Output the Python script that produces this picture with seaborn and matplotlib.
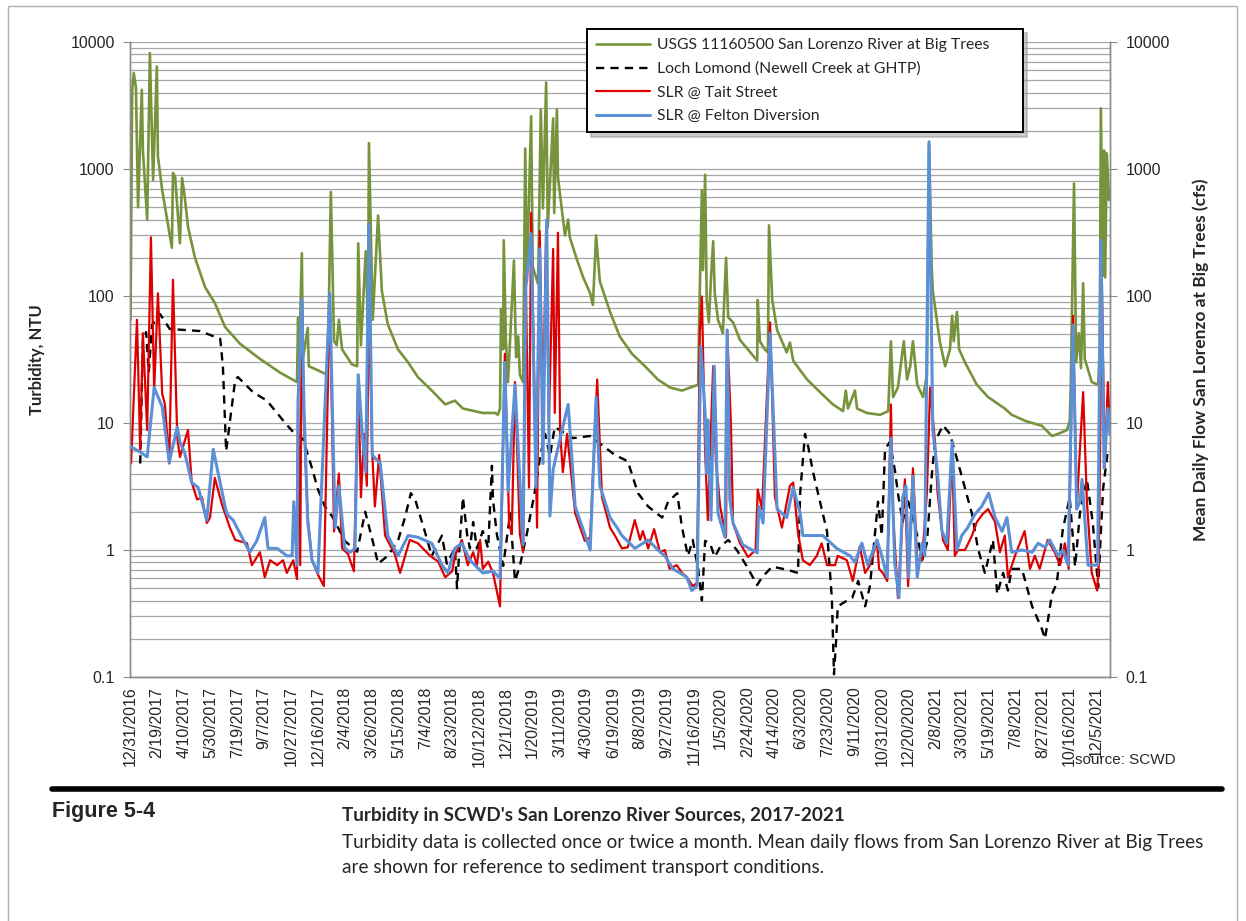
import matplotlib
matplotlib.use("Agg")
import matplotlib.pyplot as plt
import matplotlib.ticker as mticker
from matplotlib.lines import Line2D
from matplotlib.patches import Rectangle
import pandas as pd
import seaborn as sns

START = pd.Timestamp("2016-12-31")

# all day numbers are days since 12/31/2016
flow_days = [
    1, 4, 7, 11, 15, 22, 24, 32, 37, 43,
    50, 52, 60, 78, 80, 84, 93, 97, 102, 108,
    121, 140, 158, 177, 205, 242, 279, 311, 313, 315,
    320, 322, 331, 333, 350, 367, 369, 374, 380, 385,
    389, 395, 413, 423, 425, 430, 439, 443, 445, 452,
    462, 469, 480, 499, 518, 536, 562, 587, 605, 620,
    657, 680, 685, 689, 691, 695, 696, 700, 704, 715,
    719, 723, 726, 732, 736, 739, 747, 750, 760, 765,
    769, 775, 778, 788, 790, 795, 797, 801, 810, 816,
    819, 832, 844, 857, 862, 868, 875, 894, 912, 935,
    959, 983, 1006, 1028, 1043, 1058, 1060, 1065, 1067, 1071,
    1074, 1078, 1082, 1086, 1089, 1095, 1104, 1110, 1114, 1123,
    1136, 1155, 1168, 1169, 1173, 1182, 1188, 1190, 1196, 1205,
    1223, 1229, 1235, 1248, 1261, 1285, 1309, 1328, 1333, 1337,
    1350, 1354, 1372, 1397, 1412, 1417, 1421, 1430, 1441, 1447,
    1453, 1458, 1466, 1477, 1484, 1488, 1493, 1495, 1508, 1518,
    1527, 1531, 1534, 1540, 1544, 1555, 1577, 1598, 1629, 1642,
    1667, 1698, 1717, 1728, 1745, 1750, 1752, 1758, 1762, 1767,
    1771, 1775, 1778, 1791, 1803, 1806, 1808, 1812, 1814, 1816,
    1819, 1823, 1825]
flow_cfs = [
    65, 4200, 5700, 4400, 500, 4200, 1400, 400, 8200, 820,
    6400, 1250, 680, 240, 930, 870, 260, 850, 600, 350,
    200, 117, 88, 57, 42, 32, 25, 21, 67, 30,
    217, 32, 56, 28, 26, 24, 41, 660, 44, 41,
    65, 38, 29, 28, 260, 41, 225, 60, 1600, 65,
    430, 110, 60, 38, 30, 23, 18, 14, 15, 13,
    12, 12, 11.6, 13, 79, 38, 275, 44, 21, 190,
    33, 48, 24, 21, 1450, 130, 2600, 170, 124, 2950,
    490, 4800, 350, 2500, 450, 2950, 860, 620, 300, 400,
    290, 195, 140, 105, 85, 300, 130, 75, 48, 35,
    28, 22, 19, 18, 19, 20, 65, 680, 160, 900,
    93, 62, 140, 270, 105, 65, 51, 200, 68, 62,
    45, 36, 31, 93, 44, 38, 36, 360, 93, 54,
    36, 43, 31, 26, 22, 17.5, 14, 12.4, 18, 13,
    18, 13, 12, 11.6, 12.4, 44, 16, 19, 44, 22,
    28, 44, 20, 16, 24, 1570, 170, 110, 44, 28,
    38, 70, 44, 75, 38, 30, 20, 16, 13, 11.6,
    10.4, 9.5, 7.9, 8.2, 8.8, 10.4, 20, 770, 30, 51,
    27, 126, 32, 21, 20, 40, 3000, 145, 1400, 140,
    1330, 570, 700]

lomond_days = [
    19, 24, 30, 35, 41, 56, 74, 130, 168, 173,
    179, 196, 201, 229, 255, 289, 307, 322, 339, 350,
    363, 378, 400, 423, 438, 453, 462, 480, 499, 512,
    523, 531, 549, 562, 581, 590, 605, 609, 615, 620,
    628, 633, 639, 646, 657, 667, 674, 676, 683, 695,
    708, 717, 726, 739, 754, 764, 773, 782, 791, 825,
    857, 903, 927, 946, 965, 991, 1002, 1019, 1028, 1039,
    1048, 1058, 1065, 1071, 1080, 1089, 1099, 1114, 1130, 1149,
    1168, 1177, 1196, 1223, 1244, 1248, 1257, 1263, 1272, 1285,
    1298, 1307, 1311, 1315, 1318, 1331, 1345, 1356, 1369, 1378,
    1387, 1393, 1400, 1406, 1415, 1425, 1430, 1439, 1447, 1456,
    1466, 1475, 1484, 1493, 1499, 1514, 1527, 1549, 1568, 1579,
    1592, 1607, 1615, 1626, 1635, 1642, 1661, 1680, 1698, 1704,
    1717, 1726, 1737, 1750, 1760, 1769, 1782, 1793, 1803, 1812,
    1821]
lomond_ntu = [
    4.8, 45, 52, 25, 59, 72, 55, 53, 46, 28,
    6.0, 22, 23, 17.5, 15, 10, 8.2, 7.5, 4.4, 3.0,
    2.2, 1.8, 1.18, 0.97, 2.0, 1.13, 0.78, 0.9, 1.18, 1.8,
    2.8, 2.5, 1.4, 0.9, 1.3, 0.78, 1.03, 0.5, 1.3, 2.6,
    1.3, 1.03, 1.66, 1.03, 1.41, 1.03, 4.6, 2.5, 1.34, 0.75,
    1.95, 0.57, 0.75, 1.34, 2.9, 5.5, 8.2, 5.5, 9.3, 7.6,
    7.9, 5.6, 5.0, 2.8, 2.2, 1.8, 2.4, 2.8, 1.5, 0.9,
    1.2, 0.71, 0.40, 1.18, 1.13, 0.88, 1.06, 1.2, 1.0, 0.74,
    0.53, 0.61, 0.74, 0.70, 0.66, 2.8, 8.2, 6.5, 4.1, 2.4,
    1.4, 0.42, 0.105, 0.195, 0.36, 0.39, 0.42, 0.57, 0.36, 0.52,
    1.3, 2.4, 1.3, 6.2, 7.1, 4.1, 2.8, 1.66, 2.6, 1.92,
    1.3, 0.83, 1.13, 3.8, 7.1, 9.6, 8.2, 3.8, 1.92, 1.03,
    0.66, 1.2, 0.45, 0.66, 0.48, 0.71, 0.71, 0.36, 0.24, 0.20,
    0.45, 0.55, 1.44, 2.6, 0.74, 1.95, 3.6, 1.63, 0.51, 3.0,
    6.1]

tait_days = [
    2, 13, 19, 24, 32, 39, 45, 52, 60, 65,
    73, 80, 88, 93, 108, 115, 125, 134, 143, 149,
    158, 171, 186, 196, 218, 227, 242, 251, 261, 274,
    285, 292, 304, 311, 313, 317, 320, 324, 331, 339,
    350, 361, 372, 380, 389, 395, 406, 417, 425, 430,
    436, 441, 445, 451, 456, 464, 475, 493, 503, 521,
    536, 559, 574, 587, 600, 605, 618, 629, 639, 646,
    652, 657, 667, 676, 689, 698, 706, 711, 717, 726,
    732, 737, 743, 747, 758, 763, 769, 775, 780, 788,
    791, 797, 801, 806, 814, 829, 847, 857, 870, 879,
    894, 903, 916, 927, 940, 950, 955, 965, 976, 987,
    996, 1005, 1018, 1028, 1037, 1048, 1056, 1061, 1065, 1071,
    1076, 1086, 1091, 1099, 1110, 1112, 1119, 1123, 1136, 1151,
    1165, 1169, 1177, 1192, 1201, 1214, 1229, 1235, 1244, 1253,
    1266, 1279, 1288, 1298, 1313, 1318, 1335, 1346, 1359, 1369,
    1378, 1391, 1395, 1402, 1410, 1417, 1421, 1430, 1443, 1449,
    1458, 1466, 1475, 1484, 1490, 1499, 1504, 1514, 1523, 1531,
    1536, 1542, 1555, 1568, 1577, 1588, 1598, 1611, 1620, 1629,
    1635, 1648, 1666, 1676, 1685, 1694, 1709, 1722, 1732, 1741,
    1748, 1756, 1763, 1767, 1775, 1782, 1791, 1801, 1804, 1810,
    1815, 1821, 1825]
tait_ntu = [
    4.8, 65, 6.1, 51, 8.8, 290, 18, 105, 17, 14,
    4.8, 134, 7.7, 5.4, 8.8, 3.4, 2.5, 2.6, 1.63, 1.8,
    3.7, 2.3, 1.5, 1.2, 1.13, 0.76, 0.96, 0.61, 0.83, 0.76,
    0.83, 0.66, 0.83, 0.59, 16, 0.76, 95, 10.4, 1.8, 0.83,
    0.64, 0.52, 105, 1.4, 4.0, 1.03, 0.93, 0.68, 22, 2.6,
    8.2, 3.2, 95, 6.0, 2.2, 5.6, 1.3, 0.93, 0.66, 1.2,
    1.13, 0.9, 0.81, 0.61, 0.68, 0.9, 1.2, 0.76, 0.96, 0.76,
    1.2, 0.71, 0.81, 0.66, 0.36, 35, 1.6, 1.34, 21, 1.34,
    0.96, 140, 3.1, 450, 1.5, 325, 10.6, 350, 9.8, 235,
    12, 315, 8.6, 4.1, 8.2, 1.95, 1.18, 1.26, 22, 2.6,
    1.5, 1.3, 1.03, 1.05, 1.72, 1.2, 1.41, 1.03, 1.46, 0.96,
    1.0, 0.71, 0.76, 0.66, 0.61, 0.52, 0.55, 51, 99, 6.1,
    1.72, 28, 5.1, 2.2, 1.26, 54, 10, 1.63, 1.13, 0.88,
    1.0, 3.0, 2.1, 62, 2.6, 1.5, 3.2, 3.4, 1.36, 0.83,
    0.76, 0.9, 1.13, 0.76, 0.76, 0.9, 0.83, 0.57, 1.07, 0.66,
    0.76, 1.18, 0.71, 0.66, 0.57, 14, 1.92, 0.42, 3.6, 0.52,
    4.4, 0.83, 0.83, 2.8, 19, 7.1, 2.8, 1.2, 1.0, 6.0,
    0.9, 1.0, 1.0, 1.3, 1.66, 1.92, 2.1, 1.66, 0.96, 1.3,
    0.61, 0.9, 1.41, 0.71, 0.9, 0.71, 1.2, 0.96, 0.76, 1.13,
    0.71, 70, 2.1, 4.4, 17.5, 2.4, 0.66, 0.48, 0.76, 126,
    4.4, 21, 8.2]

felton_days = [
    2, 19, 32, 45, 60, 73, 88, 93, 102, 115,
    127, 143, 155, 177, 181, 192, 223, 236, 251, 257,
    274, 292, 302, 305, 311, 313, 320, 324, 331, 339,
    350, 372, 382, 389, 400, 410, 419, 425, 432, 439,
    445, 451, 466, 480, 499, 518, 536, 562, 581, 592,
    605, 618, 633, 657, 676, 689, 698, 704, 717, 732,
    737, 747, 756, 763, 769, 776, 782, 788, 804, 816,
    829, 851, 857, 868, 875, 894, 907, 916, 940, 965,
    983, 996, 1011, 1024, 1037, 1046, 1056, 1063, 1071, 1074,
    1076, 1082, 1088, 1095, 1108, 1112, 1117, 1123, 1141, 1168,
    1171, 1179, 1192, 1205, 1223, 1235, 1248, 1253, 1290, 1316,
    1341, 1350, 1363, 1374, 1391, 1400, 1410, 1417, 1424, 1432,
    1439, 1445, 1450, 1458, 1466, 1475, 1480, 1488, 1495, 1503,
    1512, 1521, 1531, 1540, 1549, 1560, 1573, 1586, 1599, 1611,
    1624, 1633, 1642, 1661, 1680, 1691, 1704, 1713, 1728, 1737,
    1747, 1756, 1763, 1769, 1773, 1784, 1802, 1808, 1814, 1821,
    1825]
felton_ntu = [
    6.5, 5.9, 5.4, 19, 13.4, 4.9, 9.3, 7.1, 5.8, 3.4,
    3.1, 1.72, 6.2, 2.2, 1.9, 1.72, 0.96, 1.18, 1.8, 1.03,
    1.03, 0.9, 0.9, 2.4, 0.76, 15, 95, 13, 1.66, 0.83,
    0.66, 105, 1.5, 3.2, 1.03, 0.96, 1.03, 24, 8.8, 4.1,
    370, 5.6, 4.8, 1.3, 0.9, 1.3, 1.26, 1.13, 0.76, 0.66,
    1.03, 1.13, 0.83, 0.66, 0.68, 0.6, 30, 2.9, 20, 1.1,
    115, 310, 3.1, 235, 4.8, 400, 1.85, 4.3, 8.6, 14,
    2.2, 1.18, 1.0, 16, 3.2, 1.8, 1.5, 1.3, 1.03, 1.2,
    1.0, 0.9, 0.71, 0.66, 0.61, 0.48, 0.52, 40, 12, 4.0,
    10.6, 1.72, 28, 1.95, 1.26, 54, 2.5, 1.63, 1.1, 0.95,
    2.2, 1.63, 51, 2.1, 1.8, 3.1, 1.95, 1.3, 1.3, 1.03,
    0.9, 0.8, 1.13, 0.76, 1.2, 0.9, 0.61, 7.6, 0.8, 0.42,
    2.6, 3.2, 0.61, 3.8, 0.61, 1.13, 0.9, 1640, 8.8, 4.4,
    1.41, 1.13, 7.1, 1.0, 1.3, 1.5, 1.9, 2.2, 2.8, 1.8,
    1.4, 1.8, 0.96, 1.0, 0.96, 1.13, 1.05, 1.2, 0.9, 1.0,
    0.76, 59, 2.1, 2.4, 3.6, 0.76, 0.76, 275, 4.4, 13,
    8.2]

series_labels = ["USGS 11160500 San Lorenzo River at Big Trees",
                 "Loch Lomond (Newell Creek at GHTP)",
                 "SLR @ Tait Street",
                 "SLR @ Felton Diversion"]


def frame(days, vals):
    return pd.DataFrame({"date": START + pd.to_timedelta(days, unit="D"), "value": vals})


sns.set_style("white")
plt.rcParams["font.family"] = ["Lato", "DejaVu Sans"]

W, H = 1246, 921
fig = plt.figure(figsize=(W / 100, H / 100), dpi=100)
ax = fig.add_axes([130 / W, 1 - 677 / H, 980 / W, 635 / H])
ax2 = ax.twinx()

# flow on the back axis, turbidity on top (same 0.1-10000 log range)
sns.lineplot(data=frame(flow_days, flow_cfs), x="date", y="value", ax=ax,
             color="#77933C", linewidth=1.9, estimator=None, label=series_labels[0])
sns.lineplot(data=frame(lomond_days, lomond_ntu), x="date", y="value", ax=ax2,
             color="black", linewidth=1.7, linestyle=(0, (3.5, 2.6)), estimator=None,
             label=series_labels[1])
sns.lineplot(data=frame(tait_days, tait_ntu), x="date", y="value", ax=ax2,
             color="#DD0000", linewidth=1.6, estimator=None, label=series_labels[2])
sns.lineplot(data=frame(felton_days, felton_ntu), x="date", y="value", ax=ax2,
             color="#5B8FD6", linewidth=2.2, estimator=None, label=series_labels[3])

for a in (ax, ax2):
    if a.get_legend() is not None:
        a.get_legend().remove()
    a.set_yscale("log")
    a.set_ylim(0.1, 10000)
    a.set_xlim(START, START + pd.Timedelta(days=1825))
    a.yaxis.set_major_locator(mticker.FixedLocator([0.1, 1, 10, 100, 1000, 10000]))
    a.yaxis.set_major_formatter(mticker.FuncFormatter(lambda v, p: "0.1" if v < 1 else f"{int(round(v))}"))
    a.yaxis.set_minor_locator(mticker.LogLocator(base=10, subs=range(2, 10)))
    a.yaxis.set_minor_formatter(mticker.NullFormatter())
    a.spines["top"].set_visible(False)
    for s in ("left", "right", "bottom"):
        a.spines[s].set_color("#8C8C8C")
        a.spines[s].set_linewidth(1.0)
    a.set_xlabel("")

ax.grid(axis="y", which="both", color="#A6A6A6", linewidth=0.9)
ax.grid(axis="x", visible=False)
ax2.grid(False)
ax.set_axisbelow(True)

ticks = pd.date_range(START, periods=37, freq="50D")
ax.set_xticks(ticks)
ax.set_xticklabels([f"{t.month}/{t.day}/{t.year}" for t in ticks], rotation=90,
                   fontsize=11.5, family="Liberation Sans")
ax.tick_params(axis="x", which="major", length=5, color="#8C8C8C", pad=2)
ax.tick_params(axis="y", which="major", length=5, color="#8C8C8C", labelsize=11.5, pad=6)
ax.tick_params(axis="y", which="minor", length=0)
ax2.tick_params(axis="y", which="major", length=5, color="#8C8C8C", labelsize=11.5, pad=6)
ax2.tick_params(axis="y", which="minor", length=0)
for lab in ax.get_yticklabels() + ax2.get_yticklabels():
    lab.set_family("Liberation Sans")

ax.set_ylabel("Turbidity, NTU", fontsize=12, fontweight="bold")
ax.yaxis.set_label_coords(-0.087, 0.5)
ax2.set_ylabel("Mean Daily Flow San Lorenzo at Big Trees (cfs)", fontsize=12.5,
               fontweight="bold", rotation=90)
ax2.yaxis.set_label_coords(1.084, 0.5)

h1, l1 = ax.get_legend_handles_labels()
h2, l2 = ax2.get_legend_handles_labels()
leg = ax2.legend(h1 + h2, l1 + l2, loc="upper left",
                 bbox_to_anchor=(587 / W, 1 - 133 / H, 436 / W, 104 / H),
                 bbox_transform=fig.transFigure, mode="expand", borderaxespad=0,
                 fontsize=11.3, handlelength=3.4, handletextpad=0.45,
                 labelspacing=0.6, borderpad=0.6, fancybox=False,
                 shadow={"color": "0.6", "ox": 3, "oy": -3})
leg.get_frame().set_edgecolor("black")
leg.get_frame().set_linewidth(1.4)
leg.get_frame().set_alpha(1)

# page furniture around the chart
fig.add_artist(Rectangle((8 / W, -0.05), (1237 - 8) / W, 1.05 - 6 / H,
                         transform=fig.transFigure, fill=False,
                         edgecolor="#B0B0B0", linewidth=1.0))
fig.text(1075 / W, 1 - 760 / H, "source: SCWD", fontsize=11, family="Liberation Sans",
         va="center", ha="left")
fig.add_artist(Line2D([52 / W, 1222 / W], [1 - 789 / H] * 2, color="black",
                      linewidth=4, transform=fig.transFigure))
fig.text(52 / W, 1 - 812 / H, "Figure 5-4", fontsize=15.5, fontweight="bold",
         family="Liberation Sans", va="center", ha="left")
fig.text(342 / W, 1 - 816 / H, "Turbidity in SCWD's San Lorenzo River Sources, 2017-2021",
         fontsize=13.6, fontweight="bold", va="center", ha="left")
fig.text(342 / W, 1 - 842 / H,
         "Turbidity data is collected once or twice a month. Mean daily flows from San Lorenzo River at Big Trees",
         fontsize=13.7, va="center", ha="left")
fig.text(342 / W, 1 - 867 / H, "are shown for reference to sediment transport conditions.",
         fontsize=13.7, va="center", ha="left")

fig.savefig("out.png", dpi=100)
